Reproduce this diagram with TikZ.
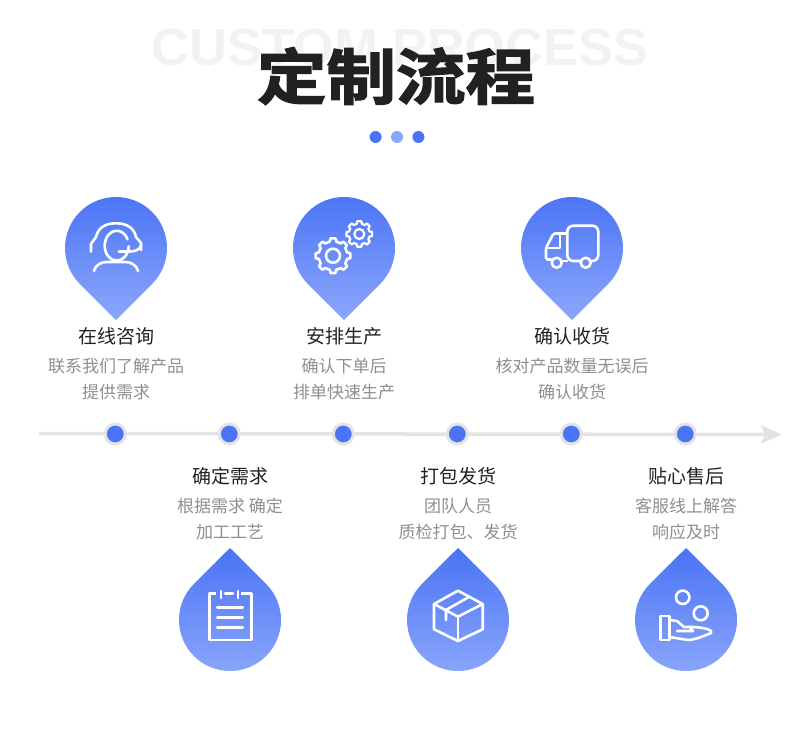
\documentclass[tikz,border=0pt]{standalone}
\usepackage{fontspec}
\setmainfont{Noto Sans CJK SC}
\newfontfamily\titlefont[FakeBold=2.2]{Noto Sans CJK SC Bold}
\newfontfamily\latinfont{Liberation Sans}
\usetikzlibrary{positioning, arrows.meta}
\definecolor{pinblue}{HTML}{4A73F5}
\definecolor{pinlight}{HTML}{8BA7FB}
\definecolor{linegrey}{HTML}{E3E3E3}
\tikzset{
  backtitle/.style={font=\latinfont\bfseries\fontsize{52.4}{54}\selectfont, text=black!5, inner sep=0pt},
  maintitle/.style={font=\titlefont\fontsize{69.5}{70}\selectfont, text=black!87, inner sep=0pt, yscale=0.87, transform shape},
  titledot/.style={circle, minimum size=12pt, inner sep=0pt, fill=#1},
  stepname/.style={font=\fontsize{19}{24}\selectfont, text=black!87, inner sep=0pt},
  stepdesc/.style={font=\fontsize{17}{26}\selectfont, text=black!44, align=center, inner sep=0pt},
  stepdot/.style={circle, minimum size=20pt, inner sep=0pt, fill=pinblue, draw=linegrey, line width=3pt},
  iconline/.style={draw=white, line width=2.6pt, line join=round, line cap=round},
  pinup/.pic={
    \shade[top color=pinblue, bottom color=pinlight] (0,-72) -- (225:51) arc (225:-45:51) -- cycle;
  },
  pindown/.pic={
    \shade[top color=pinblue, bottom color=pinlight] (0,72) -- (45:51) arc (45:-225:51) -- cycle;
  }
}

\begin{document}
\begin{tikzpicture}[x=1pt, y=1pt]
        \useasboundingbox (0,0) rectangle (800,-744);

        % titles
        \node (backhead) [backtitle] at (400,-47) {CUSTOM PROCESS};
        \node (mainhead) [maintitle] at (396,-76) {定制流程};
        \node (dotb) [titledot=pinlight] at (397,-137) {};
        \node (dota) [titledot=pinblue, left=9pt of dotb] {};
        \node (dotc) [titledot=pinblue, right=9pt of dotb] {};

        % timeline
        \coordinate (linestart) at (39,-433.5);
        \coordinate (lineend) at (782,-434.5);
        \draw [linegrey, line width=3.5pt, -{Stealth[length=21pt, width=18pt, inset=4pt]}] (linestart) -- (lineend);

        \node (dotask) [stepdot] at (115.3,-434) {};
        \node (dotneed) [stepdot] at (229.3,-434) {};
        \node (dotmake) [stepdot] at (343.3,-434) {};
        \node (dotpack) [stepdot] at (457.3,-434) {};
        \node (dotget) [stepdot] at (571.3,-434) {};
        \node (dotcare) [stepdot] at (685.3,-434) {};

        % upper row texts
        \node (askname) [stepname] at (116,-336) {在线咨询};
        \node (askdesc) [stepdesc, below=13pt of askname] {联系我们了解产品\\提供需求};
        \node (makename) [stepname] at (344,-336) {安排生产};
        \node (makedesc) [stepdesc, below=13pt of makename] {确认下单后\\排单快速生产};
        \node (getname) [stepname] at (572,-336) {确认收货};
        \node (getdesc) [stepdesc, below=13pt of getname] {核对产品数量无误后\\确认收货};

        % lower row texts
        \node (needname) [stepname] at (230,-476) {确定需求};
        \node (needdesc) [stepdesc, below=13pt of needname] {根据需求 确定\\加工工艺};
        \node (packname) [stepname] at (458,-476) {打包发货};
        \node (packdesc) [stepdesc, below=13pt of packname] {团队人员\\质检打包、发货};
        \node (carename) [stepname] at (686,-476) {贴心售后};
        \node (caredesc) [stepdesc, below=13pt of carename] {客服线上解答\\响应及时};

        % pins
        \pic at (116,-248) {pinup};
        \pic at (344,-248) {pinup};
        \pic at (572,-248) {pinup};
        \pic at (230,-620) {pindown};
        \pic at (458,-620) {pindown};
        \pic at (686,-620) {pindown};

        % headset
        \begin{scope}[shift={(116,-248)}]
          \draw [iconline] (0.7,2.3) ++(-2:12 and 15) arc (-2:-335:12 and 15);
          \draw [iconline] (3,-3.5) -- (14,-3.5) .. controls (20,-3.5) and (24,-1) .. (24.7,2);
          \draw [iconline] (-25,-3.5) -- (-25,4) -- (-20,11) .. controls (-18,20) and (-11,24.7) .. (0,24.7) .. controls (11,24.7) and (18,20) .. (20,11) -- (25,5) -- (25,-2);
          \draw [iconline] (-22,-23) .. controls (-20,-16) and (-14,-14) .. (-9,-14) -- (9,-14) .. controls (14,-14) and (20,-16) .. (22,-23);
        \end{scope}

        % gears
        \begin{scope}[shift={(333,-255.7)}]
          \draw [iconline] (-13:14.5) \foreach \a in {0,45,...,315} { -- (\a-13:14.5) -- (\a-8:17.5) -- (\a+8:17.5) -- (\a+13:14.5)} -- cycle;
          \draw [iconline] (0,0) circle (7);
        \end{scope}
        \begin{scope}[shift={(359.3,-234)}]
          \draw [iconline, line width=2.2pt] (-14:10.5) \foreach \a in {0,45,...,315} { -- (\a-14:10.5) -- (\a-9:13) -- (\a+9:13) -- (\a+14:10.5)} -- cycle;
          \draw [iconline, line width=2.2pt] (0,0) circle (5);
        \end{scope}

        % truck
        \begin{scope}[shift={(572,-248)}]
          \draw [iconline, rounded corners=6pt] (8.5,-13) -- (-4.7,-13) -- (-4.7,22.3) -- (26.3,22.3) -- (26.3,-13) -- (19,-13);
          \draw [iconline, rounded corners=1.5pt] (-21,-11.5) -- (-26,-11.5) -- (-26,-0) -- (-18.5,14.5) -- (-4.7,14.5);
          \draw [iconline] (-26,-0) -- (-12,0) -- (-12,14.5);
          \draw [iconline] (-10,-13) -- (-4.7,-13);
          \draw [iconline] (-15.3,-14.7) circle (5);
          \draw [iconline] (13.7,-14.7) circle (5);
        \end{scope}

        % clipboard
        \begin{scope}[shift={(230,-620)}]
          \draw [iconline, line cap=butt] (-14,26.7) -- (-20.7,26.7) -- (-20.7,-20) -- (21.7,-20) -- (21.7,26.7) -- (11,26.7);
          \draw [iconline] (-5,26.7) -- (3,26.7);
          \draw [iconline] (-9,29) -- (-9,22);
          \draw [iconline] (8,29) -- (8,22);
          \draw [iconline] (-12.7,12.7) -- (12.7,12.7);
          \draw [iconline] (-12.7,2.3) -- (12.7,2.3);
          \draw [iconline] (-12.7,-7.7) -- (12.7,-7.7);
        \end{scope}

        % parcel
        \begin{scope}[shift={(458,-620)}]
          \draw [iconline] (0,29.3) -- (24.7,16) -- (24.7,-9.3) -- (0,-21) -- (-24,-9.3) -- (-24,16) -- cycle;
          \draw [iconline] (-24,16) -- (0,3.3) -- (24.7,16);
          \draw [iconline] (0,3.3) -- (0,-21);
          \draw [iconline] (10.3,22.7) -- (-12,10) -- (-12,0);
        \end{scope}

        % hand
        \begin{scope}[shift={(686,-620)}]
          \draw [iconline] (-3.3,22.7) circle (6.7);
          \draw [iconline] (14.7,6.7) circle (7);
          \draw [iconline] (-25.3,4) rectangle (-16.7,-20);
          \draw [iconline] (-16.7,0) -- (-9,-1) -- (-2,-7) -- (5,-7) .. controls (10,-7) and (22,-8) .. (25,-11) -- (25,-13) .. controls (18,-16) and (8,-20) .. (2,-20) -- (-16.7,-17);
          \draw [iconline] (-9,-11) -- (7,-11) -- (4,-7);
        \end{scope}

    \end{tikzpicture}
\end{document}
